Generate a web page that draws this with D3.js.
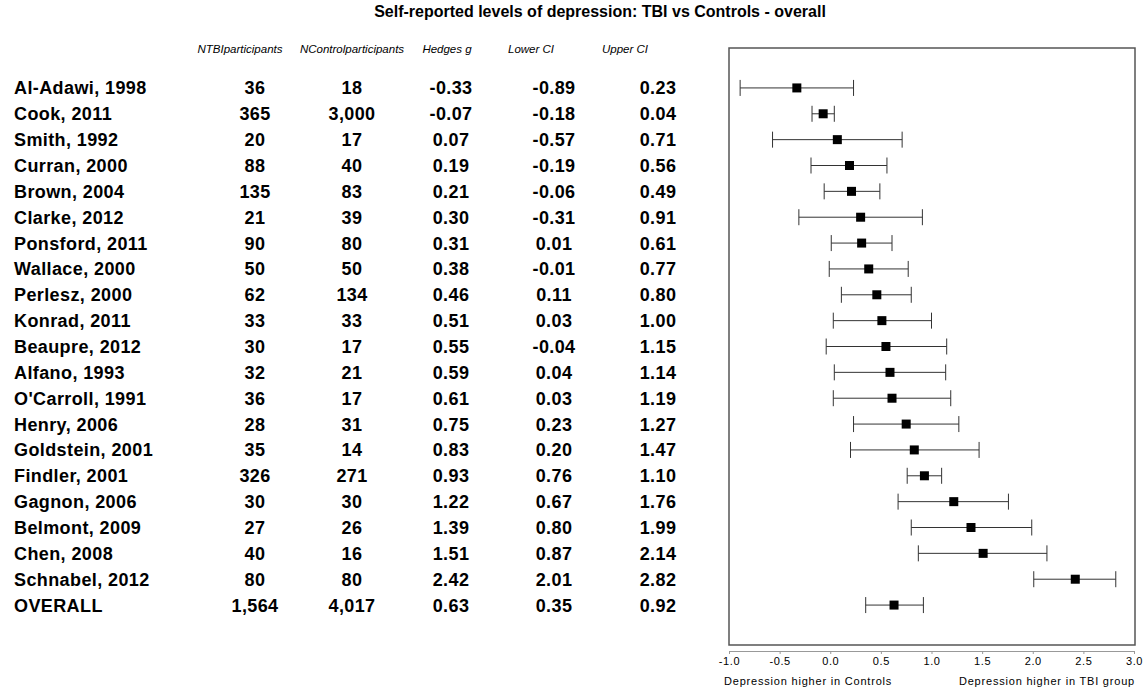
<!DOCTYPE html>
<html>
<head>
<meta charset="utf-8">
<script src="https://cdn.jsdelivr.net/npm/d3@7"></script>
<style>
body { margin: 0; background: #fff; }
text { font-family: Arial, "Liberation Sans", sans-serif; }
</style>
</head>
<body>
<svg id="chart" width="1147" height="691"></svg>
<script>
// study table
var studies = ['Al-Adawi, 1998', 'Cook, 2011', 'Smith, 1992', 'Curran, 2000', 'Brown, 2004',
	'Clarke, 2012', 'Ponsford, 2011', 'Wallace, 2000', 'Perlesz, 2000', 'Konrad, 2011',
	'Beaupre, 2012', 'Alfano, 1993', "O'Carroll, 1991", 'Henry, 2006', 'Goldstein, 2001',
	'Findler, 2001', 'Gagnon, 2006', 'Belmont, 2009', 'Chen, 2008', 'Schnabel, 2012', 'OVERALL'];
var nTBI = [36, 365, 20, 88, 135, 21, 90, 50, 62, 33, 30, 32, 36, 28, 35, 326, 30, 27, 40, 80, 1564];
var nControl = [18, 3000, 17, 40, 83, 39, 80, 50, 134, 33, 17, 21, 17, 31, 14, 271, 30, 26, 16, 80, 4017];
var hedges = [-0.33, -0.07, 0.07, 0.19, 0.21, 0.30, 0.31, 0.38, 0.46, 0.51, 0.55, 0.59, 0.61, 0.75, 0.83, 0.93, 1.22, 1.39, 1.51, 2.42, 0.63];
var lowerCI = [-0.89, -0.18, -0.57, -0.19, -0.06, -0.31, 0.01, -0.01, 0.11, 0.03, -0.04, 0.04, 0.03, 0.23, 0.20, 0.76, 0.67, 0.80, 0.87, 2.01, 0.35];
var upperCI = [0.23, 0.04, 0.71, 0.56, 0.49, 0.91, 0.61, 0.77, 0.80, 1.00, 1.15, 1.14, 1.19, 1.27, 1.47, 1.10, 1.76, 1.99, 2.14, 2.82, 0.92];
var xTicks = [-1.0, -0.5, 0.0, 0.5, 1.0, 1.5, 2.0, 2.5, 3.0];

var svg = d3.select('#chart');
var fmtInt = d3.format(',');
// plain hyphen for negatives, like the original
var fmt2 = function(v) { return d3.format('.2f')(v).replace('\u2212', '-'); };
var fmt1 = function(v) { return d3.format('.1f')(v).replace('\u2212', '-'); };

var x = d3.scaleLinear().domain([-1, 3]).range([729, 1134]);
var y = d3.scaleBand().domain(d3.range(studies.length)).range([75, 618]);
var rowY = function(i) { return y(i) + y.bandwidth() / 2; };

// title
svg.append('text')
	.attr('x', 600).attr('y', 17)
	.attr('text-anchor', 'middle')
	.style('font-size', '16px').style('font-weight', 'bold')
	.text('Self-reported levels of depression: TBI vs Controls - overall');

// column headers
var headers = [
	{ t: 'NTBIparticipants', x: 240 },
	{ t: 'NControlparticipants', x: 352 },
	{ t: 'Hedges g', x: 447 },
	{ t: 'Lower CI', x: 531 },
	{ t: 'Upper CI', x: 625 }
];
svg.selectAll('.hdr').data(headers).enter().append('text')
	.attr('class', 'hdr')
	.attr('x', function(d) { return d.x; }).attr('y', 53)
	.attr('text-anchor', 'middle')
	.style('font-size', '11.5px').style('font-style', 'italic')
	.text(function(d) { return d.t; });

// table columns
var cols = [
	{ x: 14, anchor: 'start', val: function(i) { return studies[i]; } },
	{ x: 255, anchor: 'middle', val: function(i) { return fmtInt(nTBI[i]); } },
	{ x: 352, anchor: 'middle', val: function(i) { return fmtInt(nControl[i]); } },
	{ x: 451, anchor: 'middle', val: function(i) { return fmt2(hedges[i]); } },
	{ x: 554, anchor: 'middle', val: function(i) { return fmt2(lowerCI[i]); } },
	{ x: 658, anchor: 'middle', val: function(i) { return fmt2(upperCI[i]); } }
];
cols.forEach(function(c) {
	svg.append('g').selectAll('text').data(d3.range(studies.length)).enter().append('text')
		.attr('x', c.x).attr('y', function(i) { return rowY(i) + 6.5; })
		.attr('text-anchor', c.anchor)
		.style('font-size', '18px').style('font-weight', 'bold').style('letter-spacing', '0.4px')
		.text(c.val);
});

// plot frame
svg.append('rect')
	.attr('x', 729).attr('y', 48).attr('width', 406).attr('height', 597)
	.attr('fill', 'none').attr('stroke', '#555').attr('stroke-width', 1.5);

// CI lines, caps, markers
var rows = svg.append('g').selectAll('g').data(d3.range(studies.length)).enter().append('g');
rows.append('line')
	.attr('x1', function(i) { return x(lowerCI[i]); })
	.attr('x2', function(i) { return x(upperCI[i]); })
	.attr('y1', rowY).attr('y2', rowY)
	.attr('stroke', '#333').attr('stroke-width', 1);
[lowerCI, upperCI].forEach(function(arr) {
	rows.append('line')
		.attr('x1', function(i) { return x(arr[i]); })
		.attr('x2', function(i) { return x(arr[i]); })
		.attr('y1', function(i) { return rowY(i) - 8; })
		.attr('y2', function(i) { return rowY(i) + 8; })
		.attr('stroke', '#333').attr('stroke-width', 1);
});
rows.append('rect')
	.attr('x', function(i) { return x(hedges[i]) - 4.5; })
	.attr('y', function(i) { return rowY(i) - 4.5; })
	.attr('width', 9).attr('height', 9)
	.attr('fill', '#000');

// bottom axis
var axis = svg.append('g')
	.attr('transform', 'translate(0,651)')
	.call(d3.axisBottom(x).tickValues(xTicks).tickFormat(fmt1).tickSize(3).tickSizeOuter(0).tickPadding(3));
axis.select('.domain').attr('stroke', '#999');
axis.selectAll('.tick line').attr('stroke', '#999');
axis.selectAll('.tick text')
	.style('font-size', '11px').style('letter-spacing', '0.6px')
	.style('font-family', 'Arial, "Liberation Sans", sans-serif');

svg.append('text')
	.attr('x', 724).attr('y', 685)
	.style('font-size', '11px').style('letter-spacing', '0.8px')
	.text('Depression higher in Controls');
svg.append('text')
	.attr('x', 1135).attr('y', 685)
	.attr('text-anchor', 'end')
	.style('font-size', '11px').style('letter-spacing', '0.8px')
	.text('Depression higher in TBI group');
</script>
</body>
</html>
